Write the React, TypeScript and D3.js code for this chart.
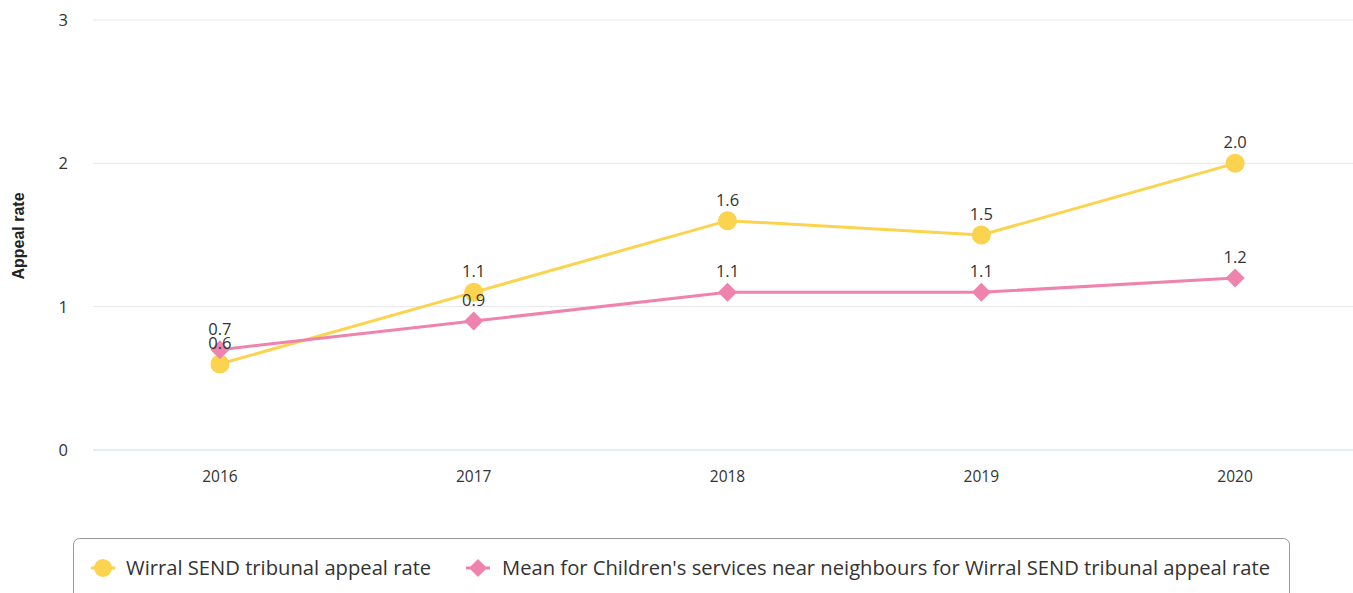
import React from "react";
import * as d3 from "d3";

const categories = ["2016", "2017", "2018", "2019", "2020"];
const wirral = [0.6, 1.1, 1.6, 1.5, 2.0];
const neighbours = [0.7, 0.9, 1.1, 1.1, 1.2];
const yTicks = [0, 1, 2, 3];
const seriesNames = [
  "Wirral SEND tribunal appeal rate",
  "Mean for Children's services near neighbours for Wirral SEND tribunal appeal rate",
];

const W = 1353;
const H = 593;
const FONT = "'Open Sans', sans-serif";
const YELLOW = "#FCD34F";
const PINK = "#EF83AE";

export default function App() {
  const x = d3.scaleBand<string>().domain(categories).range([93, 1362]);
  const y = d3.scaleLinear().domain([0, 3]).range([450, 20]);
  const cx = (c: string) => (x(c) ?? 0) + x.bandwidth() / 2;
  const line = d3
    .line<number>()
    .x((_, i) => cx(categories[i]))
    .y((d) => y(d));
  const diamond = (px: number, py: number, r: number) =>
    `M${px},${py - r}L${px + r},${py}L${px},${py + r}L${px - r},${py}Z`;

  return (
    <div style={{ position: "absolute", left: 0, top: 0 }}>
      <svg width={W} height={H} style={{ display: "block", fontFamily: FONT }}>
        <rect width={W} height={H} fill="#fff" />
        {yTicks.map((t) => (
          <g key={t}>
            <line
              x1={93}
              x2={1362}
              y1={y(t)}
              y2={y(t)}
              stroke={t === 0 ? "#ccd6eb" : "#e6e6e6"}
              strokeWidth={1}
            />
            <text x={68} y={y(t) + 6} textAnchor="end" fontSize={16.5} fill="#333">
              {t}
            </text>
          </g>
        ))}
        <text
          transform={`translate(24,${236}) rotate(-90)`}
          textAnchor="middle"
          fontSize={16}
          fontWeight="bold"
          fontFamily="'Liberation Sans', Arial, sans-serif"
          fill="#222"
        >
          Appeal rate
        </text>
        {categories.map((c) => (
          <text key={c} x={cx(c)} y={482} textAnchor="middle" fontSize={15.5} fill="#333">
            {c}
          </text>
        ))}
        <path d={line(wirral) ?? ""} fill="none" stroke={YELLOW} strokeWidth={3} />
        <path d={line(neighbours) ?? ""} fill="none" stroke={PINK} strokeWidth={3} />
        {wirral.map((v, i) => (
          <circle key={i} cx={cx(categories[i])} cy={y(v)} r={9.5} fill={YELLOW} />
        ))}
        {neighbours.map((v, i) => (
          <path key={i} d={diamond(cx(categories[i]), y(v), 9.5)} fill={PINK} />
        ))}
        {wirral.map((v, i) => (
          <text
            key={i}
            x={cx(categories[i])}
            y={y(v) - 15}
            textAnchor="middle"
            fontSize={16.5}
            fill="#333"
          >
            {v.toFixed(1)}
          </text>
        ))}
        {neighbours.map((v, i) => (
          <text
            key={i}
            x={cx(categories[i])}
            y={y(v) - 15}
            textAnchor="middle"
            fontSize={16.5}
            fill="#333"
          >
            {v.toFixed(1)}
          </text>
        ))}
        <rect
          x={73.5}
          y={538.5}
          width={1216}
          height={80}
          rx={6}
          fill="#fff"
          stroke="#999"
          strokeWidth={1}
        />
        <line x1={91} x2={115} y1={568} y2={568} stroke={YELLOW} strokeWidth={3} />
        <circle cx={103} cy={568} r={9} fill={YELLOW} />
        <text x={126} y={575} fontSize={20.2} fill="#333">
          {seriesNames[0]}
        </text>
        <line x1={466} x2={490} y1={568} y2={568} stroke={PINK} strokeWidth={3} />
        <path d={diamond(478, 568, 9)} fill={PINK} />
        <text x={502} y={575} fontSize={20.2} fill="#333">
          {seriesNames[1]}
        </text>
      </svg>
    </div>
  );
}
